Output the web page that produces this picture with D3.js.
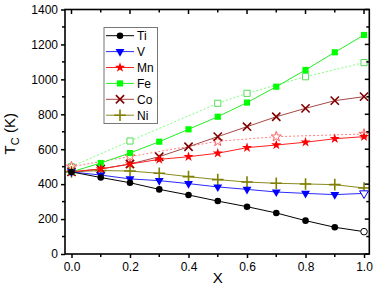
<!DOCTYPE html>
<meta charset="utf-8">
<style>
body { margin: 0; background: #fff; }
text { font-family: "Liberation Sans", Arial, sans-serif; fill: #000; }
</style>
<svg width="374" height="287" id="mysvg"></svg>
<script src="https://d3js.org/d3.v7.min.js"></script>
<script>

// concentrations
var xs = [0, 0.1, 0.2, 0.3, 0.4, 0.5, 0.6, 0.7, 0.8, 0.9, 1.0];

// Tc values, solid series
var ti = [470, 438, 408, 370, 338, 303, 271, 235, 191, 153, 128];
var v  = [470, 452, 430, 420, 403, 384, 370, 355, 347, 340, 347];
var mn = [470, 487, 515, 542, 557, 577, 609, 624, 640, 660, 672];
var fe = [470, 521, 578, 643, 714, 786, 867, 958, 1054, 1155, 1254];
var co = [470, 487, 515, 557, 614, 672, 729, 786, 834, 878, 901];
var ni = [470, 478, 475, 462, 443, 426, 412, 405, 401, 397, 378];

// dotted (open symbol) series
var xFeOpen = [0, 0.2, 0.5, 0.6, 0.8, 1.0];
var feOpen  = [500, 647, 863, 920, 1015, 1096];
var xMnOpen = [0, 0.2, 0.5, 0.7, 1.0];
var mnOpen  = [500, 558, 645, 672, 687];

var xTicks = [0, 0.2, 0.4, 0.6, 0.8, 1.0];
var yTicks = [0, 200, 400, 600, 800, 1000, 1200, 1400];
var names = ["Ti", "V", "Mn", "Fe", "Co", "Ni"];

var svg = d3.select("svg");

// plot box (note: "top" is a reserved window prop)
var padL = 65, padR = 369.3, padT = 9.5, padB = 254;

var x = d3.scaleLinear().domain([-0.0222, 1.018]).range([padL, padR]);
var y = d3.scaleLinear().domain([0, 1400]).range([padB, padT]);

var series = [
  { name: names[0], vals: ti, line: "#000", mark: "#000", sym: "circle", lastOpen: true },
  { name: names[1], vals: v,  line: "#2a2aff", mark: "#0000ff", sym: "tri", lastOpen: true },
  { name: names[2], vals: mn, line: "#ff2020", mark: "#ff0000", sym: "star" },
  { name: names[3], vals: fe, line: "#22ee22", mark: "#00ff00", sym: "square" },
  { name: names[4], vals: co, line: "#a84848", mark: "#800000", sym: "times" },
  { name: names[5], vals: ni, line: "#8a8a20", mark: "#808000", sym: "plus" }
];

function symPath(sym) {
  if (sym == "circle") return d3.symbol(d3.symbolCircle, 34)();
  if (sym == "square") return d3.symbol(d3.symbolSquare, 38)();
  if (sym == "tri") return d3.symbol(d3.symbolTriangle, 34)();
  if (sym == "star") return d3.symbol(d3.symbolStar, 32)();
  if (sym == "times") return d3.symbol(d3.symbolTimes, 46)();
  if (sym == "plus") return d3.symbol(d3.symbolPlus, 46)();
}

function drawMarker(g, sym, col, open, px, py) {
  var p = g.append("path")
    .attr("d", symPath(sym))
    .attr("transform", "translate(" + px + "," + py + ")" + (sym == "tri" ? " rotate(180)" : ""));
  if (sym == "times" || sym == "plus") {
    p.attr("fill", "none").attr("stroke", col).attr("stroke-width", 1.6);
  } else if (open) {
    p.attr("fill", "#fff").attr("stroke", col).attr("stroke-width", 1);
  } else {
    p.attr("fill", col);
  }
}

var line = d3.line()
  .x(function(d) { return x(d[0]); })
  .y(function(d) { return y(d[1]); });

// dotted series first
var dotted = [
  { xv: xFeOpen, vals: feOpen, col: "#7dff7d", mcol: "#55dd55", sym: "square" },
  { xv: xMnOpen, vals: mnOpen, col: "#ff8080", mcol: "#ff6060", sym: "star" }
];
dotted.forEach(function(s) {
  var pts = s.xv.map(function(d, i) { return [d, s.vals[i]]; });
  svg.append("path")
    .attr("d", line(pts))
    .attr("fill", "none")
    .attr("stroke", s.col)
    .attr("stroke-width", 1)
    .attr("stroke-dasharray", "2,2");
  pts.forEach(function(p) {
    drawMarker(svg, s.sym, s.mcol, true, x(p[0]), y(p[1]));
  });
});

series.slice().reverse().forEach(function(s) {
  var pts = xs.map(function(d, i) { return [d, s.vals[i]]; });
  svg.append("path")
    .attr("d", line(pts))
    .attr("fill", "none")
    .attr("stroke", s.line)
    .attr("stroke-width", 1);
  pts.forEach(function(p, i) {
    var open = s.lastOpen && i == pts.length - 1;
    drawMarker(svg, s.sym, s.mark, open, x(p[0]), y(p[1]));
  });
});

// frame + axes
var xMinor = d3.range(0, 1.001, 0.1);
var yMinor = d3.range(0, 1401, 100);

var axB = svg.append("g").attr("transform", "translate(0," + padB + ")")
  .call(d3.axisBottom(x).tickValues(xTicks).tickFormat(d3.format(".1f")).tickSize(4).tickPadding(4));
var axL = svg.append("g").attr("transform", "translate(" + padL + ",0)")
  .call(d3.axisLeft(y).tickValues(yTicks).tickFormat(d3.format("d")).tickSize(4).tickPadding(3));
[axB, axL].forEach(function(a) {
  a.select(".domain").remove();
  a.selectAll("line").attr("stroke-width", 1.5);
  a.selectAll("text").attr("font-size", 12).attr("font-family", "Liberation Sans, Arial, sans-serif");
});

var ticks = svg.append("g").attr("stroke", "#000").attr("stroke-width", 1.5);
xMinor.forEach(function(d, i) {
  var big = i % 2 == 0;
  // bottom minor (outward)
  if (!big) ticks.append("line").attr("x1", x(d)).attr("x2", x(d)).attr("y1", padB).attr("y2", padB + 3);
  // top (inward)
  ticks.append("line").attr("x1", x(d)).attr("x2", x(d)).attr("y1", padT).attr("y2", padT + (big ? 4.5 : 3));
});
yMinor.forEach(function(d, i) {
  var big = i % 2 == 0;
  if (!big) ticks.append("line").attr("x1", padL).attr("x2", padL - 3).attr("y1", y(d)).attr("y2", y(d));
  ticks.append("line").attr("x1", padR).attr("x2", padR - (big ? 4.5 : 3)).attr("y1", y(d)).attr("y2", y(d));
});

svg.append("rect")
  .attr("x", padL).attr("y", padT)
  .attr("width", padR - padL).attr("height", padB - padT)
  .attr("fill", "none").attr("stroke", "#000").attr("stroke-width", 1.6);

// axis titles
svg.append("text")
  .attr("x", (padL + padR) / 2 + 0.5).attr("y", 283)
  .attr("text-anchor", "middle").attr("font-size", 15)
  .text("X");

var yt = svg.append("text")
  .attr("transform", "translate(15," + ((padT + padB) / 2 + 2) + ") rotate(-90)")
  .attr("text-anchor", "middle").attr("font-size", 15);
yt.append("tspan").text("T");
yt.append("tspan").attr("font-size", 11).attr("dy", 4).text("C");
yt.append("tspan").attr("dy", -4).text(" (K)");

// legend
var lg = svg.append("g");
lg.append("rect")
  .attr("x", 104).attr("y", 27.5).attr("width", 53.5).attr("height", 96)
  .attr("fill", "#fff").attr("stroke", "#777").attr("stroke-width", 1);
series.forEach(function(s, i) {
  var yy = 35.7 + i * 15.9;
  lg.append("line").attr("x1", 106).attr("x2", 134).attr("y1", yy).attr("y2", yy)
    .attr("stroke", s.line).attr("stroke-width", 1);
  drawMarker(lg, s.sym, s.mark, false, 120, yy);
  lg.append("text").attr("x", 137).attr("y", yy + 4.5).attr("font-size", 12).text(s.name);
});

</script>
